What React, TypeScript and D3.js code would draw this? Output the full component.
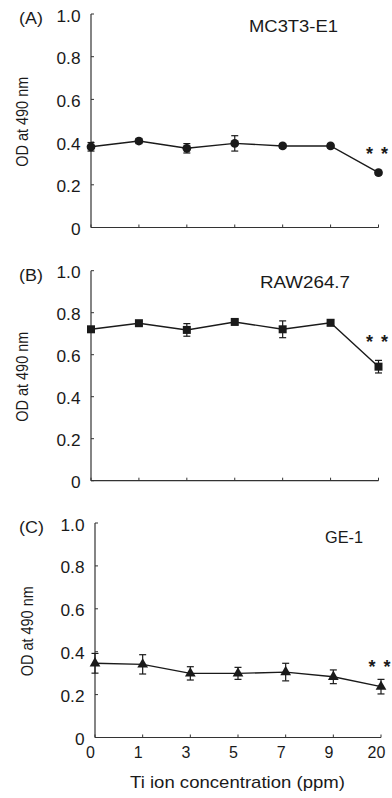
import React from 'react';
import * as d3 from 'd3';

// Ti ion concentrations (ppm), shown as evenly spaced categories
const concentrations = ['0', '1', '3', '5', '7', '9', '20'];

// OD at 490 nm, mean and error
const mc3t3Mean = [0.378, 0.405, 0.371, 0.394, 0.382, 0.382, 0.257];
const mc3t3Err = [0.02, 0.012, 0.022, 0.036, 0.01, 0.01, 0.01];

const rawMean = [0.721, 0.75, 0.718, 0.756, 0.721, 0.752, 0.543];
const rawErr = [0.012, 0.01, 0.03, 0.012, 0.04, 0.014, 0.03];

const ge1Mean = [0.346, 0.341, 0.299, 0.299, 0.305, 0.283, 0.237];
const ge1Err = [0.046, 0.045, 0.031, 0.028, 0.041, 0.032, 0.034];

const yTicks = [0, 0.2, 0.4, 0.6, 0.8, 1.0];
const yTickLabels = ['0', '0.2', '0.4', '0.6', '0.8', '1.0'];

const INK = '#1a1a1a';
const FONT = '"Liberation Sans", Arial, sans-serif';

interface PanelProps {
  tag: string;
  title: string;
  mean: number[];
  err: number[];
  marker: 'circle' | 'square' | 'triangle';
  sigY: number;
  left: number;
  right: number;
  top: number;
  bottom: number;
  titleX: number;
  titleY: number;
  titleLen: number;
  labelX: number;
  showX?: boolean;
}

const Panel: React.FC<PanelProps> = (p) => {
  const x = d3.scalePoint<string>().domain(concentrations).range([p.left, p.right]).padding(0);
  const y = d3.scaleLinear().domain([0, 1]).range([p.bottom, p.top]);

  const line = d3
    .line<number>()
    .x((_, i) => x(concentrations[i]) as number)
    .y((d) => y(d));

  const symType =
    p.marker === 'circle' ? d3.symbolCircle : p.marker === 'square' ? d3.symbolSquare : d3.symbolTriangle;
  const symSize = p.marker === 'circle' ? 60 : p.marker === 'square' ? 64 : 50;
  const sym = d3.symbol().type(symType).size(symSize)() as string;

  const lastX = x('20') as number;

  return (
    <g>
      {/* axes */}
      <line x1={p.left} x2={p.left} y1={y(1)} y2={y(0)} stroke="#333" strokeWidth={1.2} />
      <line x1={p.left} x2={p.right} y1={y(0)} y2={y(0)} stroke="#333" strokeWidth={1.2} />
      {yTicks.map((t, i) => (
        <g key={'yt' + i}>
          <line x1={p.left} x2={p.left + 3} y1={y(t)} y2={y(t)} stroke="#333" strokeWidth={1} />
          <text
            transform={`translate(${p.left - 10.5},${y(t) + 7.5}) scale(1.08,1)`}
            textAnchor="end"
            fontSize={16}
            fontFamily={FONT}
            fill={INK}
          >
            {yTickLabels[i]}
          </text>
        </g>
      ))}
      {concentrations.map((c) => (
        <line
          key={'xt' + c}
          x1={x(c)}
          x2={x(c)}
          y1={y(0)}
          y2={y(0) - 3}
          stroke="#333"
          strokeWidth={1}
        />
      ))}
      {p.showX &&
        concentrations.map((c) => (
          <text
            key={'xl' + c}
            x={(x(c) as number) - 4.5}
            y={758}
            textAnchor="middle"
            fontSize={16}
            fontFamily={FONT}
            fill={INK}
          >
            {c}
          </text>
        ))}

      {/* panel tag and title */}
      <text
        transform={`translate(${19},${p.top + 10}) scale(1.12,1)`}
        fontSize={16}
        fontFamily={FONT}
        fill={INK}
      >
        {p.tag}
      </text>
      <text
        x={p.titleX}
        y={p.titleY}
        textAnchor="middle"
        fontSize={16}
        fontFamily={FONT}
        fill={INK}
        textLength={p.titleLen}
        lengthAdjust="spacingAndGlyphs"
      >
        {p.title}
      </text>
      <text
        transform={`translate(${p.labelX},${(y(0) + y(1)) / 2 + 1}) rotate(-90)`}
        textAnchor="middle"
        fontSize={16.5}
        fontFamily={FONT}
        fill={INK}
        textLength={90}
        lengthAdjust="spacingAndGlyphs"
      >
        OD at 490 nm
      </text>

      {/* data */}
      <path d={line(p.mean) as string} fill="none" stroke={INK} strokeWidth={1.4} />
      {p.mean.map((m, i) => {
        const cx = x(concentrations[i]) as number;
        return (
          <g key={'e' + i} stroke={INK} strokeWidth={1.2}>
            <line x1={cx} x2={cx} y1={y(m + p.err[i])} y2={y(m - p.err[i])} />
            <line x1={cx - 3.5} x2={cx + 3.5} y1={y(m + p.err[i])} y2={y(m + p.err[i])} />
            <line x1={cx - 3.5} x2={cx + 3.5} y1={y(m - p.err[i])} y2={y(m - p.err[i])} />
          </g>
        );
      })}
      {p.mean.map((m, i) => (
        <path
          key={'m' + i}
          d={sym}
          transform={`translate(${x(concentrations[i])},${y(m)})`}
          fill={INK}
        />
      ))}

      {/* significance */}
      {[-9, 6].map((dx) => (
        <text
          key={'s' + dx}
          x={lastX + dx}
          y={y(p.sigY) + 9}
          textAnchor="middle"
          fontSize={18}
          fontWeight="bold"
          fontFamily={FONT}
          fill={INK}
        >
          *
        </text>
      ))}
    </g>
  );
};

export default function App() {
  return (
    <svg
      width={392}
      height={798}
      style={{ position: 'absolute', left: 0, top: 0, background: '#fff' }}
    >
      <rect width={392} height={798} fill="#fff" />
      <Panel
        tag="(A)"
        title="MC3T3-E1"
        mean={mc3t3Mean}
        err={mc3t3Err}
        marker="circle"
        sigY={0.36}
        left={91}
        right={378.5}
        top={14}
        bottom={227.5}
        titleX={293.5}
        titleY={31.5}
        titleLen={89}
        labelX={28}
      />
      <Panel
        tag="(B)"
        title="RAW264.7"
        mean={rawMean}
        err={rawErr}
        marker="square"
        sigY={0.673}
        left={91}
        right={378.5}
        top={270.7}
        bottom={480.7}
        titleX={305}
        titleY={288}
        titleLen={90}
        labelX={28}
      />
      <Panel
        tag="(C)"
        title="GE-1"
        mean={ge1Mean}
        err={ge1Err}
        marker="triangle"
        sigY={0.341}
        left={95}
        right={381}
        top={523}
        bottom={737.5}
        titleX={344}
        titleY={543}
        titleLen={38}
        labelX={33}
        showX
      />
      <text
        x={237.5}
        y={788}
        textAnchor="middle"
        fontSize={17}
        fontFamily={FONT}
        fill={INK}
        textLength={215}
        lengthAdjust="spacingAndGlyphs"
      >
        Ti ion concentration (ppm)
      </text>
    </svg>
  );
}
